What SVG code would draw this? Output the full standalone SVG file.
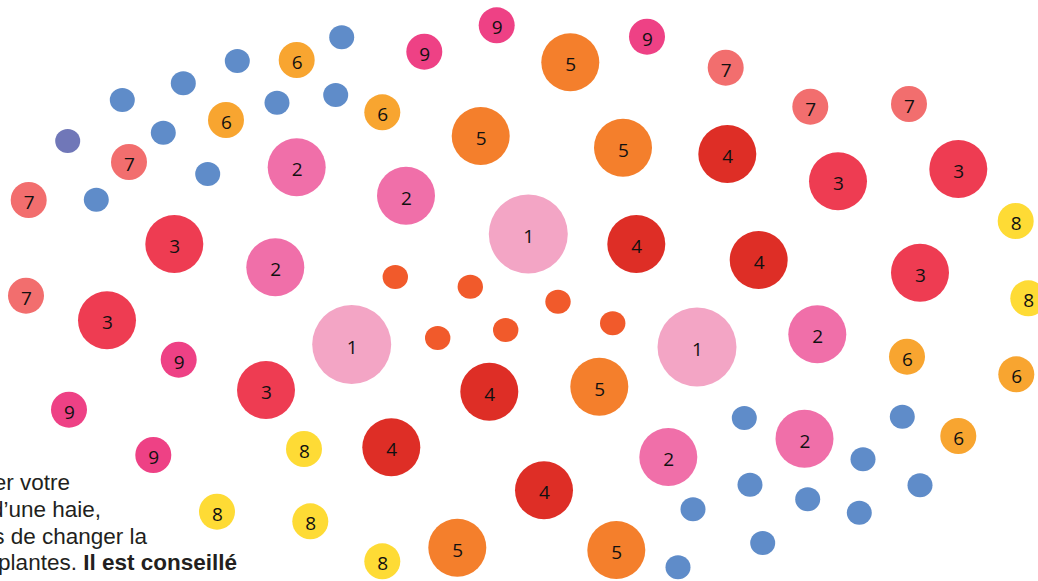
<svg xmlns="http://www.w3.org/2000/svg" width="1038" height="581" viewBox="0 0 1038 581">
<style>
.b{fill:#5f8cc9}.p{fill:#7077b8}.o{fill:#f15a2b}
.c1{fill:#f3a5c5}.c2{fill:#f06fa9}.c3{fill:#ee3c52}.c4{fill:#de2e26}.c5{fill:#f47f2c}.c6{fill:#f8a530}.c7{fill:#f26e6e}.c8{fill:#fedb35}.c9{fill:#ee4185}
text.n{font-family:"Open Sans","Liberation Sans",sans-serif;font-size:19px;fill:#111;text-anchor:middle}
text.t{font-family:"Liberation Sans",Arial,sans-serif;font-size:22.5px;fill:#231f20;text-anchor:end}
</style>
<rect width="1038" height="581" fill="#fff"/>
<g id="dots">
<ellipse class="b" cx="341.7" cy="37.3" rx="12.5" ry="12"/>
<ellipse class="b" cx="237.3" cy="61" rx="12.5" ry="12"/>
<ellipse class="b" cx="183.3" cy="83.3" rx="12.5" ry="12"/>
<ellipse class="b" cx="122.3" cy="100" rx="12.5" ry="12"/>
<ellipse class="b" cx="335.7" cy="95" rx="12.5" ry="12"/>
<ellipse class="b" cx="277" cy="102.7" rx="12.5" ry="12"/>
<ellipse class="b" cx="163.3" cy="132.7" rx="12.5" ry="12"/>
<ellipse class="b" cx="207.7" cy="174" rx="12.5" ry="12"/>
<ellipse class="b" cx="96.3" cy="199.7" rx="12.5" ry="12"/>
<ellipse class="p" cx="67.7" cy="141" rx="12.5" ry="12"/>
<ellipse class="b" cx="744.3" cy="418" rx="12.5" ry="12"/>
<ellipse class="b" cx="902.3" cy="416.7" rx="12.5" ry="12"/>
<ellipse class="b" cx="863" cy="459.3" rx="12.5" ry="12"/>
<ellipse class="b" cx="750" cy="484.7" rx="12.5" ry="12"/>
<ellipse class="b" cx="920" cy="485.3" rx="12.5" ry="12"/>
<ellipse class="b" cx="807.7" cy="499.3" rx="12.5" ry="12"/>
<ellipse class="b" cx="693" cy="509.3" rx="12.5" ry="12"/>
<ellipse class="b" cx="859.3" cy="512.7" rx="12.5" ry="12"/>
<ellipse class="b" cx="762.7" cy="543" rx="12.5" ry="12"/>
<ellipse class="b" cx="678" cy="567.3" rx="12.5" ry="12"/>
<ellipse class="o" cx="395.3" cy="277" rx="12.7" ry="12"/>
<ellipse class="o" cx="470.3" cy="286.7" rx="12.7" ry="12"/>
<ellipse class="o" cx="558" cy="301.7" rx="12.7" ry="12"/>
<ellipse class="o" cx="612.7" cy="323.3" rx="12.7" ry="12"/>
<ellipse class="o" cx="437.7" cy="338" rx="12.7" ry="12"/>
<ellipse class="o" cx="505.7" cy="330" rx="12.7" ry="12"/>
</g>
<g id="n1a"><circle class="c1" cx="528.3" cy="234" r="39.5"/><text class="n" x="528.8" y="243">1</text></g>
<g id="n1b"><circle class="c1" cx="351.7" cy="344.5" r="39.5"/><text class="n" x="352.2" y="353.5">1</text></g>
<g id="n1c"><circle class="c1" cx="697" cy="347" r="39.5"/><text class="n" x="697.5" y="356">1</text></g>
<g id="n2a"><circle class="c2" cx="296.7" cy="167.3" r="29"/><text class="n" x="297.2" y="176.3">2</text></g>
<g id="n2b"><circle class="c2" cx="406" cy="195.7" r="29"/><text class="n" x="406.5" y="204.7">2</text></g>
<g id="n2c"><circle class="c2" cx="275.3" cy="267.3" r="29"/><text class="n" x="275.8" y="276.3">2</text></g>
<g id="n2d"><circle class="c2" cx="817.3" cy="334.3" r="29"/><text class="n" x="817.8" y="343.3">2</text></g>
<g id="n2e"><circle class="c2" cx="804.5" cy="438.7" r="29"/><text class="n" x="805" y="447.7">2</text></g>
<g id="n2f"><circle class="c2" cx="668.3" cy="457" r="29"/><text class="n" x="668.8" y="466">2</text></g>
<g id="n3a"><circle class="c3" cx="174.3" cy="244" r="29"/><text class="n" x="174.8" y="253">3</text></g>
<g id="n3b"><circle class="c3" cx="107" cy="320.3" r="29"/><text class="n" x="107.5" y="329.3">3</text></g>
<g id="n3c"><circle class="c3" cx="266" cy="390" r="29"/><text class="n" x="266.5" y="399">3</text></g>
<g id="n3d"><circle class="c3" cx="838" cy="181.3" r="29"/><text class="n" x="838.5" y="190.3">3</text></g>
<g id="n3e"><circle class="c3" cx="958.3" cy="169" r="29"/><text class="n" x="958.8" y="178">3</text></g>
<g id="n3f"><circle class="c3" cx="920" cy="272.7" r="29"/><text class="n" x="920.5" y="281.7">3</text></g>
<g id="n4a"><circle class="c4" cx="727.3" cy="154" r="29"/><text class="n" x="727.8" y="163">4</text></g>
<g id="n4b"><circle class="c4" cx="636.3" cy="244" r="29"/><text class="n" x="636.8" y="253">4</text></g>
<g id="n4c"><circle class="c4" cx="758.7" cy="260" r="29"/><text class="n" x="759.2" y="269">4</text></g>
<g id="n4d"><circle class="c4" cx="489.3" cy="391.7" r="29"/><text class="n" x="489.8" y="400.7">4</text></g>
<g id="n4e"><circle class="c4" cx="391.3" cy="447.3" r="29"/><text class="n" x="391.8" y="456.3">4</text></g>
<g id="n4f"><circle class="c4" cx="544" cy="490.3" r="29"/><text class="n" x="544.5" y="499.3">4</text></g>
<g id="n5a"><circle class="c5" cx="570.3" cy="62.3" r="29"/><text class="n" x="570.8" y="71.3">5</text></g>
<g id="n5b"><circle class="c5" cx="480.7" cy="136" r="29"/><text class="n" x="481.2" y="145">5</text></g>
<g id="n5c"><circle class="c5" cx="623" cy="147.7" r="29"/><text class="n" x="623.5" y="156.7">5</text></g>
<g id="n5d"><circle class="c5" cx="599.3" cy="386.7" r="29"/><text class="n" x="599.8" y="395.7">5</text></g>
<g id="n5e"><circle class="c5" cx="457.3" cy="547.7" r="29"/><text class="n" x="457.8" y="556.7">5</text></g>
<g id="n5f"><circle class="c5" cx="616.3" cy="550" r="29"/><text class="n" x="616.8" y="559">5</text></g>
<g id="n6a"><circle class="c6" cx="296.7" cy="60" r="18"/><text class="n" x="297.2" y="69">6</text></g>
<g id="n6b"><circle class="c6" cx="226" cy="120" r="18"/><text class="n" x="226.5" y="129">6</text></g>
<g id="n6c"><circle class="c6" cx="382.3" cy="112.3" r="18"/><text class="n" x="382.8" y="121.3">6</text></g>
<g id="n6d"><circle class="c6" cx="907" cy="356.7" r="18"/><text class="n" x="907.5" y="365.7">6</text></g>
<g id="n6e"><circle class="c6" cx="1016.3" cy="374.3" r="18"/><text class="n" x="1016.8" y="383.3">6</text></g>
<g id="n6f"><circle class="c6" cx="958.3" cy="436" r="18"/><text class="n" x="958.8" y="445">6</text></g>
<g id="n7a"><circle class="c7" cx="129" cy="162" r="18"/><text class="n" x="129.5" y="171">7</text></g>
<g id="n7b"><circle class="c7" cx="28.7" cy="200" r="18"/><text class="n" x="29.2" y="209">7</text></g>
<g id="n7c"><circle class="c7" cx="26" cy="295.7" r="18"/><text class="n" x="26.5" y="304.7">7</text></g>
<g id="n7d"><circle class="c7" cx="725.7" cy="67.7" r="18"/><text class="n" x="726.2" y="76.7">7</text></g>
<g id="n7e"><circle class="c7" cx="810.3" cy="106.7" r="18"/><text class="n" x="810.8" y="115.7">7</text></g>
<g id="n7f"><circle class="c7" cx="909" cy="104" r="18"/><text class="n" x="909.5" y="113">7</text></g>
<g id="n8a"><circle class="c8" cx="1015.7" cy="221" r="18"/><text class="n" x="1016.2" y="230">8</text></g>
<g id="n8b"><circle class="c8" cx="1028.3" cy="298.3" r="18"/><text class="n" x="1028.8" y="307.3">8</text></g>
<g id="n8c"><circle class="c8" cx="304" cy="449" r="18"/><text class="n" x="304.5" y="458">8</text></g>
<g id="n8d"><circle class="c8" cx="217" cy="511.7" r="18"/><text class="n" x="217.5" y="520.7">8</text></g>
<g id="n8e"><circle class="c8" cx="310.3" cy="521.3" r="18"/><text class="n" x="310.8" y="530.3">8</text></g>
<g id="n8f"><circle class="c8" cx="382.3" cy="561.3" r="18"/><text class="n" x="382.8" y="570.3">8</text></g>
<g id="n9a"><circle class="c9" cx="424.3" cy="51.7" r="18"/><text class="n" x="424.8" y="60.7">9</text></g>
<g id="n9b"><circle class="c9" cx="496.7" cy="25.3" r="18"/><text class="n" x="497.2" y="34.3">9</text></g>
<g id="n9c"><circle class="c9" cx="647" cy="36.7" r="18"/><text class="n" x="647.5" y="45.7">9</text></g>
<g id="n9d"><circle class="c9" cx="178.7" cy="359.7" r="18"/><text class="n" x="179.2" y="368.7">9</text></g>
<g id="n9e"><circle class="c9" cx="69" cy="409.7" r="18"/><text class="n" x="69.5" y="418.7">9</text></g>
<g id="n9f"><circle class="c9" cx="153.3" cy="455" r="18"/><text class="n" x="153.8" y="464">9</text></g>
<g id="caption">
<text class="t" x="70" y="490">er votre</text>
<text class="t" x="101" y="516.7">d’une haie,</text>
<text class="t" x="147" y="543.5">s de changer la</text>
<text class="t" x="237" y="570.3">plantes. <tspan font-weight="bold">Il est conseillé</tspan></text>
</g>
</svg>
